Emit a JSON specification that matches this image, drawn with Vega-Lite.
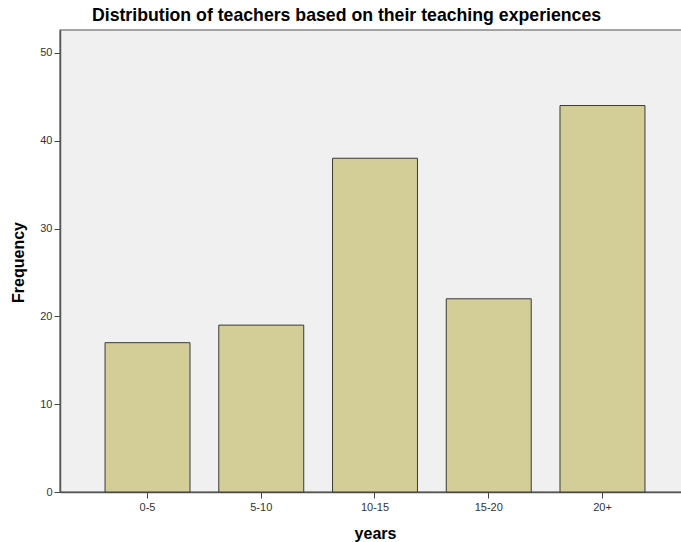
{
  "$schema": "https://vega.github.io/schema/vega-lite/v6.json",
  "autosize": {"type": "none"},
  "padding": {"left": 60, "top": 30, "right": 0, "bottom": 50},
  "width": 630,
  "height": 462,
  "background": "#ffffff",
  "title": {
    "text": "Distribution of teachers based on their teaching experiences",
    "font": "Liberation Sans",
    "fontSize": 17.7,
    "fontWeight": "bold",
    "color": "#000000",
    "anchor": "middle",
    "dx": -28.5,
    "offset": 5
  },
  "config": {
    "view": {"fill": "#f0f0f0", "stroke": "#888888", "strokeWidth": 1.5},
    "font": "Liberation Sans"
  },
  "data": {
    "values": [
      {"years": "0-5", "Frequency": 17},
      {"years": "5-10", "Frequency": 19},
      {"years": "10-15", "Frequency": 38},
      {"years": "15-20", "Frequency": 22},
      {"years": "20+", "Frequency": 44}
    ]
  },
  "mark": {"type": "bar", "fill": "#d3ce97", "stroke": "#3a3a3a", "strokeWidth": 1},
  "encoding": {
    "x": {
      "field": "years",
      "type": "nominal",
      "sort": null,
      "scale": {"paddingInner": 0.253, "paddingOuter": 0.396},
      "axis": {
        "title": "years",
        "titleFont": "Liberation Sans",
        "titleFontSize": 16,
        "titleFontWeight": "bold",
        "titleColor": "#000000",
        "titlePadding": 13,
        "labelAngle": 0,
        "labelFont": "Liberation Sans",
        "labelFontSize": 11,
        "labelColor": "#333333",
        "labelPadding": 3,
        "tickSize": 6,
        "tickColor": "#444444",
        "domainColor": "#555555",
        "domainWidth": 1.5,
        "grid": false
      }
    },
    "y": {
      "field": "Frequency",
      "type": "quantitative",
      "scale": {"domain": [0, 52.6], "nice": false},
      "axis": {
        "title": "Frequency",
        "values": [0, 10, 20, 30, 40, 50],
        "titleFont": "Liberation Sans",
        "titleFontSize": 16,
        "titleFontWeight": "bold",
        "titleColor": "#000000",
        "titleX": -42,
        "titleY": 232,
        "titleAngle": -90,
        "titleAlign": "center",
        "titleBaseline": "middle",
        "labelFont": "Liberation Sans",
        "labelFontSize": 11,
        "labelColor": "#333333",
        "labelPadding": 2,
        "tickSize": 6,
        "tickColor": "#444444",
        "domainColor": "#555555",
        "domainWidth": 1.5,
        "grid": false
      }
    }
  }
}
